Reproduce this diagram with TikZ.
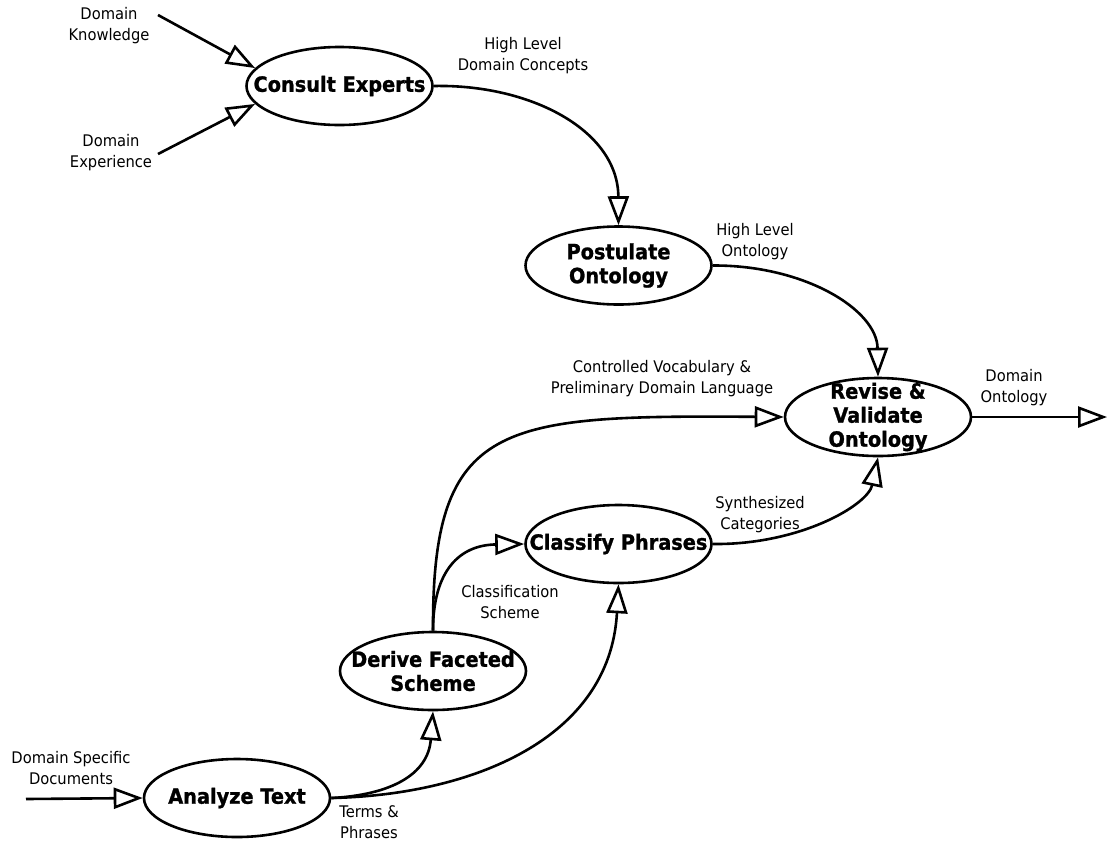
\documentclass[tikz,border=0pt]{standalone}
\usepackage{fontspec}
\setmainfont{DejaVu Sans}[FakeStretch=0.92, BoldFeatures={FakeBold=1.2}]
\usetikzlibrary{arrows.meta,shapes.geometric}
\begin{document}
\begin{tikzpicture}[x=1pt,y=-1pt,
  proc/.style={ellipse, draw, line width=2.6pt, minimum width=186pt, minimum height=78pt, inner sep=0pt},
  ptext/.style={font=\bfseries\fontsize{21}{24}\selectfont, align=center, inner sep=0pt},
  lbl/.style={font=\fontsize{16}{21}\selectfont, align=center, inner sep=0pt},
  flow/.style={line width=2.6pt, -{Triangle[length=29pt,width=21pt,fill=white]}}
]
\useasboundingbox (0,0) rectangle (1107,841);

% processes
\node[proc] (cons) at (339.5,86) {};
\node[ptext] (consT) at (cons) {Consult Experts};
\node[proc] (post) at (618.5,265.5) {};
\node[ptext] (postT) at (post) {Postulate\\Ontology};
\node[proc] (rev) at (878,417) {};
\node[ptext] (revT) at (rev) {Revise \&\\Validate\\Ontology};
\node[proc] (cls) at (618.5,544) {};
\node[ptext] (clsT) at (cls) {Classify Phrases};
\node[proc] (der) at (433,671) {};
\node[ptext] (derT) at (der) {Derive Faceted\\Scheme};
\node[proc] (ana) at (237,798) {};
\node[ptext] (anaT) at (ana) {Analyze Text};

% free ends
\coordinate (dk) at (158,15);
\coordinate (de) at (158,154);
\coordinate (dsd) at (26,799);
\coordinate (out) at (1107,417);

% labels
\node[lbl] (dkL) at (109,26) {Domain\\Knowledge};
\node[lbl] (deL) at (111,153) {Domain\\Experience};
\node[lbl] (hldcL) at (523,56) {High Level\\Domain Concepts};
\node[lbl] (hloL) at (755,242) {High Level\\Ontology};
\node[lbl] (cvL) at (662,379) {Controlled Vocabulary \&\\Preliminary Domain Language};
\node[lbl] (doL) at (1014,388) {Domain\\Ontology};
\node[lbl] (scL) at (760,515) {Synthesized\\Categories};
\node[lbl] (csL) at (510,602) {Classification\\Scheme};
\node[lbl] (dsdL) at (71,768) {Domain Specific\\Documents};
\node[lbl] (tpL) at (369,822) {Terms \&\\Phrases};

% connectors
\draw[flow] (dk) -- (cons.168);
\draw[flow] (de) -- (cons.192);
\draw[flow] (cons.east) .. controls (530,84) and (618,130) .. (post.north);
\draw[flow] (post.east) .. controls (805,265) and (877,310) .. (rev.north);
\draw[flow] (rev.east) -- (out);
\draw[flow] (der.north) .. controls (432,420) and (500,415) .. (rev.west);
\draw[flow] (der.north) .. controls (433,570) and (460,545) .. (cls.west);
\draw[flow] (cls.east) .. controls (800,545) and (868,505) .. (rev.south);
\draw[flow] (ana.east) .. controls (390,795) and (428,775) .. (der.south);
\draw[flow] (ana.east) .. controls (470,795) and (610,740) .. (cls.south);
\draw[flow] (dsd) -- (ana.west);
\end{tikzpicture}
\end{document}
